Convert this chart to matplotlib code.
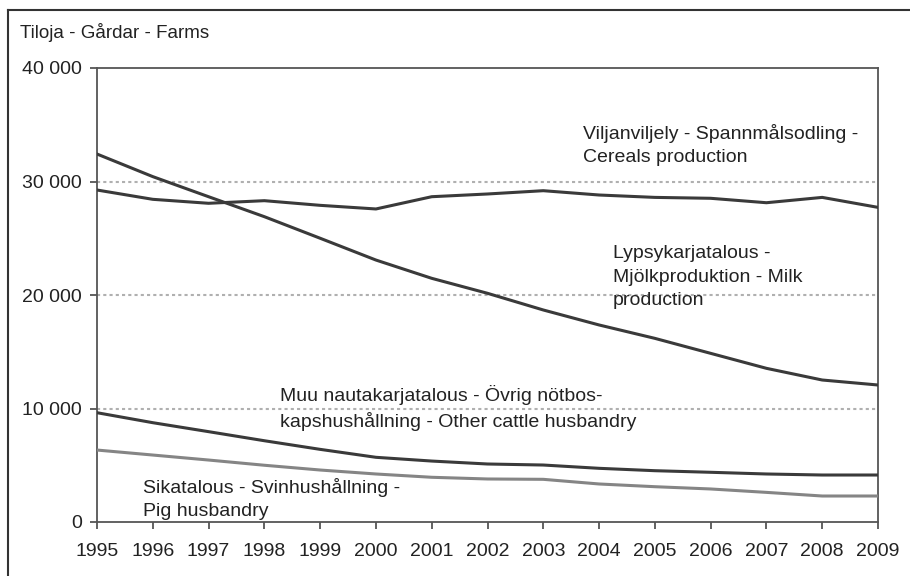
import matplotlib
matplotlib.use("Agg")
import matplotlib.pyplot as plt
from matplotlib.lines import Line2D
from matplotlib.ticker import FuncFormatter

years = list(range(1995, 2010))
cereals = [29250, 28430, 28080, 28310, 27900, 27580, 28660, 28900, 29190, 28810, 28600, 28520, 28130, 28600, 27720]
milk = [32420, 30430, 28660, 26900, 25000, 23080, 21470, 20150, 18680, 17360, 16180, 14860, 13540, 12510, 12070]
cattle = [9630, 8750, 7960, 7160, 6400, 5700, 5370, 5110, 5020, 4730, 4520, 4380, 4230, 4140, 4140]
pig = [6340, 5900, 5460, 5000, 4580, 4230, 3940, 3790, 3760, 3350, 3110, 2910, 2610, 2290, 2290]

title = "Tiloja - Gårdar - Farms"
lab_cereals = "Viljanviljely - Spannmålsodling -\nCereals production"
lab_milk = "Lypsykarjatalous -\nMjölkproduktion - Milk\nproduction"
lab_cattle = "Muu nautakarjatalous - Övrig nötbos-\nkapshushållning - Other cattle husbandry"
lab_pig = "Sikatalous - Svinhushållning -\nPig husbandry"

plt.rcParams['font.family'] = ['Liberation Sans', 'DejaVu Sans']

W, H = 910, 576
fig = plt.figure(figsize=(W / 100, H / 100), dpi=100)
ax = fig.add_axes([97 / W, 1 - 522 / H, (878 - 97) / W, (522 - 68) / H])

dark = '#3a3a3a'
ax.plot(years, cereals, color=dark, lw=2.2, solid_joinstyle='round', zorder=3)
ax.plot(years, milk, color=dark, lw=2.2, solid_joinstyle='round', zorder=3)
ax.plot(years, cattle, color=dark, lw=2.2, solid_joinstyle='round', zorder=3)
ax.plot(years, pig, color='#858585', lw=2.2, solid_joinstyle='round', zorder=3)

ax.set_xlim(1995, 2009)
ax.set_ylim(0, 40000)
ax.set_xticks(years)
ax.set_yticks([0, 10000, 20000, 30000, 40000])
ax.yaxis.set_major_formatter(FuncFormatter(lambda v, p: f"{int(v):,}".replace(",", " ")))
for yv in [10000, 20000, 30000]:
    ax.axhline(yv, color='#b0b0b0', lw=1.5, ls=(0, (1.5, 1.5)), zorder=1)

for s in ax.spines.values():
    s.set_color('#555555')
    s.set_linewidth(1.3)
ax.tick_params(axis='both', colors='#555555', labelcolor='#222222', labelsize=14,
               width=1.3, length=5, direction='out')
ax.tick_params(axis='y', pad=6)
ax.tick_params(axis='x', pad=10)

fs = 14
fig.text(20 / W, 1 - 33 / H, title, fontsize=13.5, color='#222222', va='center', ha='left')
fig.text(583 / W, 1 - 145 / H, lab_cereals, fontsize=fs, color='#222222', va='center', ha='left', linespacing=1.45)
fig.text(613 / W, 1 - 277 / H, lab_milk, fontsize=fs, color='#222222', va='center', ha='left', linespacing=1.5)
fig.text(280 / W, 1 - 408 / H, lab_cattle, fontsize=fs, color='#222222', va='center', ha='left', linespacing=1.45)
fig.text(143 / W, 1 - 499 / H, lab_pig, fontsize=fs, color='#222222', va='center', ha='left', linespacing=1.45)

# outer frame (left and top edges visible)
fig.add_artist(Line2D([8 / W, 8 / W], [0, 1 - 10 / H], transform=fig.transFigure, color='#333333', lw=1.5))
fig.add_artist(Line2D([8 / W, 1], [1 - 10 / H, 1 - 10 / H], transform=fig.transFigure, color='#333333', lw=1.5))

fig.savefig("out.png", dpi=100)
